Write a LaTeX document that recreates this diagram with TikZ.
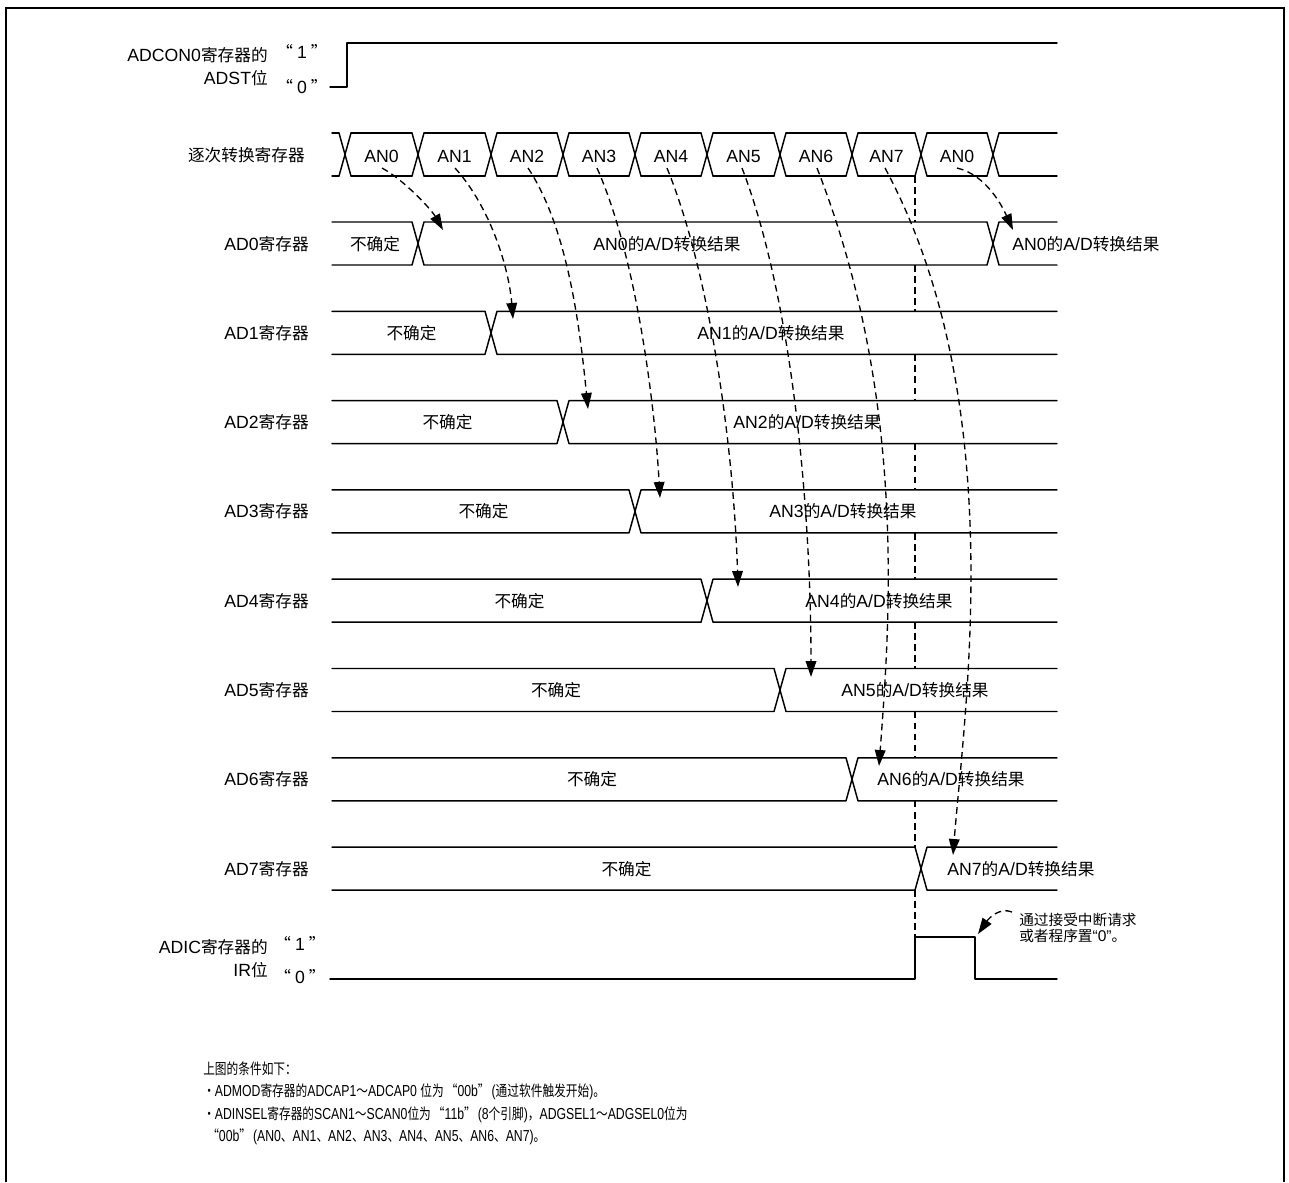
\documentclass[tikz,border=0pt]{standalone}
\usepackage{fontspec}
\setmainfont{Liberation Sans}[Scale=1.06]
\newfontfamily\cjk{Noto Sans CJK SC}
\newfontfamily\cjkc{Noto Sans CJK SC}[FakeStretch=0.78]
\newfontfamily\latc{Liberation Sans}[Scale=1.06,FakeStretch=0.77]
\newcommand\zh[1]{{\cjk #1}}
\newcommand\zc[1]{{\cjkc #1}}
\newcommand\qo{\hspace{1.5pt}{\cjkc “}}
\newcommand\qc{{\cjkc ”}\hspace{1.5pt}}
\usetikzlibrary{arrows.meta}
\begin{document}
\begin{tikzpicture}[x=0.75pt,y=-0.75pt,
  sig/.style={line width=1.1pt,line join=round,line cap=round},
  frm/.style={line width=2.2pt},
  dsh/.style={line width=1pt,dash pattern=on 5pt off 3.3pt},
  arr/.style={dsh,-{Triangle[length=12pt,width=8pt]}},
  big/.style={inner sep=0pt,font=\fontsize{12.5}{15}\selectfont},
  sml/.style={inner sep=0pt,font=\fontsize{11}{12}\selectfont},
  note/.style={inner sep=0pt,font=\fontsize{11.25}{13}\selectfont\latc,anchor=base west}]
\useasboundingbox (0,0) rectangle (1289,1182);
% frame (open at the bottom)
\draw[frm] (6,1182) -- (6,8) -- (1284,8) -- (1284,1182);

% ADST bit
\node[big,anchor=base east] (adcon) at (268,61) {ADCON0\zh{寄存器的}};
\node[big,anchor=base east] (adst) at (268,84) {ADST\zh{位}};
\node[big,anchor=base] (adst1) at (302,58) {\zh{“}\hspace{3pt}1\hspace{3pt}\zh{”}};
\node[big,anchor=base] (adst0) at (302,93) {\zh{“}\hspace{3pt}0\hspace{3pt}\zh{”}};
\draw[sig] (330,87) -- (347,87) -- (347,43) -- (1057,43);

% successive conversion register
\node[big,anchor=base east] (scanlab) at (305,161) {\zh{逐次转换寄存器}};
\foreach \c in {345,418,491,563,635,707,780,852,921,993}
  \draw[sig] (\c-6,133) -- (\c+6,176) (\c-6,176) -- (\c+6,133);
\foreach \a/\b in {326/345,345/418,418/491,491/563,563/635,635/707,707/780,780/852,852/921,921/993,993/1063}
  \draw[sig] (\a+6,133) -- (\b-6,133) (\a+6,176) -- (\b-6,176);
\foreach \n/\x in {0/381.5,1/454.5,2/527,3/599,4/671,5/743.5,6/816,7/886.5}
  \node[big,anchor=base] (an\n) at (\x,162) {AN\n};
\node[big,anchor=base] (an0b) at (957,162) {AN0};

% vertical dashed marker (only between rows)
\foreach \a/\b in {176/222,265/311.3,354.3/400.6,443.6/489.9,532.9/579.2,622.2/668.5,711.5/757.8,800.8/847.1,890.1/937}
  \draw[dsh] (915,\a) -- (915,\b);

% AD0 register
\draw[sig] (332,222) -- (412,222) -- (424,265) -- (987,265) -- (999,222) -- (1057,222);
\draw[sig] (332,265) -- (412,265) -- (424,222) -- (987,222) -- (999,265) -- (1057,265);
\node[big,anchor=base east] (lab0) at (309,250) {AD0\zh{寄存器}};
\node[big,anchor=base] (und0) at (375,250) {\zh{不确定}};
\node[big,anchor=base] (res0) at (667,250) {AN0\zh{的}A/D\zh{转换结果}};
\node[big,anchor=base west] (res0b) at (1012,250) {AN0\zh{的}A/D\zh{转换结果}};

% AD1..AD7 registers
\foreach \k/\y/\c in {1/332.8/491,2/422.1/563,3/511.4/635,4/600.7/707,5/690/780,6/779.3/852,7/868.6/921} {
  \draw[sig] (332,\y-21.5) -- (\c-6,\y-21.5) -- (\c+6,\y+21.5) -- (1057,\y+21.5);
  \draw[sig] (332,\y+21.5) -- (\c-6,\y+21.5) -- (\c+6,\y-21.5) -- (1057,\y-21.5);
  \node[big,anchor=base east] (lab\k) at (309,\y+6.5) {AD\k\zh{寄存器}};
  \node[big,anchor=base] (und\k) at ({(332+\c)/2},\y+6.5) {\zh{不确定}};
}
\foreach \k/\y/\x in {1/332.8/771,2/422.1/807,3/511.4/843,4/600.7/879,5/690/915,6/779.3/951}
  \node[big,anchor=base] (res\k) at (\x,\y+6.5) {AN\k\zh{的}A/D\zh{转换结果}};
\node[big,anchor=base west] (res7) at (947,875.1) {AN7\zh{的}A/D\zh{转换结果}};

% transfer arrows
\coordinate (s0) at (382,168); \coordinate (t0) at (443,230);
\coordinate (s1) at (455,168); \coordinate (t1) at (513,319);
\coordinate (s2) at (528,168); \coordinate (t2) at (588,409);
\coordinate (s3) at (597,168); \coordinate (t3) at (660,498);
\coordinate (s4) at (667,168); \coordinate (t4) at (738,587);
\coordinate (s5) at (742,168); \coordinate (t5) at (811,677);
\coordinate (s6) at (817,168); \coordinate (t6) at (879,766);
\coordinate (s7) at (885,168); \coordinate (t7) at (953,855);
\coordinate (s8) at (957,168); \coordinate (t8) at (1013,230);
\draw[arr] (s0) .. controls +(22,12) and +(-12,-21) .. (t0);
\draw[arr] (s1) .. controls +(36,40) and +(-4,-50) .. (t1);
\draw[arr] (s2) .. controls +(40,60) and +(-8,-80) .. (t2);
\draw[arr] (s3) .. controls +(40,90) and +(-5,-90) .. (t3);
\draw[arr] (s4) .. controls +(45,110) and +(-4,-130) .. (t4);
\draw[arr] (s5) .. controls +(50,130) and +(0,-170) .. (t5);
\draw[arr] (s6) .. controls +(90,230) and +(11,-146) .. (t6);
\draw[arr] (s7) .. controls +(125,232) and +(12,-150) .. (t7);
\draw[arr] (s8) .. controls +(30,7) and +(-10,-22) .. (t8);

% ADIC IR bit
\node[big,anchor=base east] (adic) at (268,953) {ADIC\zh{寄存器的}};
\node[big,anchor=base east] (ir) at (268,976) {IR\zh{位}};
\node[big,anchor=base] (ir1) at (300,950) {\zh{“}\hspace{3pt}1\hspace{3pt}\zh{”}};
\node[big,anchor=base] (ir0) at (300,983) {\zh{“}\hspace{3pt}0\hspace{3pt}\zh{”}};
\draw[sig] (330,979) -- (915,979) -- (915,937) -- (975,937) -- (975,979) -- (1057,979);
\coordinate (ns) at (1012,912); \coordinate (nt) at (978,934);
\draw[arr] (ns) .. controls (1000,907) and (989,918) .. (nt);
\node[sml,anchor=base west] (note1) at (1019,925) {\zh{通过接受中断请求}};
\node[sml,anchor=base west] (note2) at (1019,941) {\zh{或者程序置}“0”\zh{。}};

% conditions
\node[note] (c1) at (203,1074) {\zc{上图的条件如下：}};
\node[note] (c2) at (203,1096) {\zc{・}ADMOD\zc{寄存器的}ADCAP1\zc{～}ADCAP0 \zc{位为}\qo 00b\qc(\zc{通过软件触发开始})\zc{。}};
\node[note] (c3) at (203,1119) {\zc{・}ADINSEL\zc{寄存器的}SCAN1\zc{～}SCAN0\zc{位为}\qo 11b\qc(8\zc{个引脚})\zc{，}ADGSEL1\zc{～}ADGSEL0\zc{位为}};
\node[note] (c4) at (207,1141) {{\cjkc “}00b\qc(AN0\zc{、}AN1\zc{、}AN2\zc{、}AN3\zc{、}AN4\zc{、}AN5\zc{、}AN6\zc{、}AN7)\zc{。}};
\end{tikzpicture}
\end{document}
